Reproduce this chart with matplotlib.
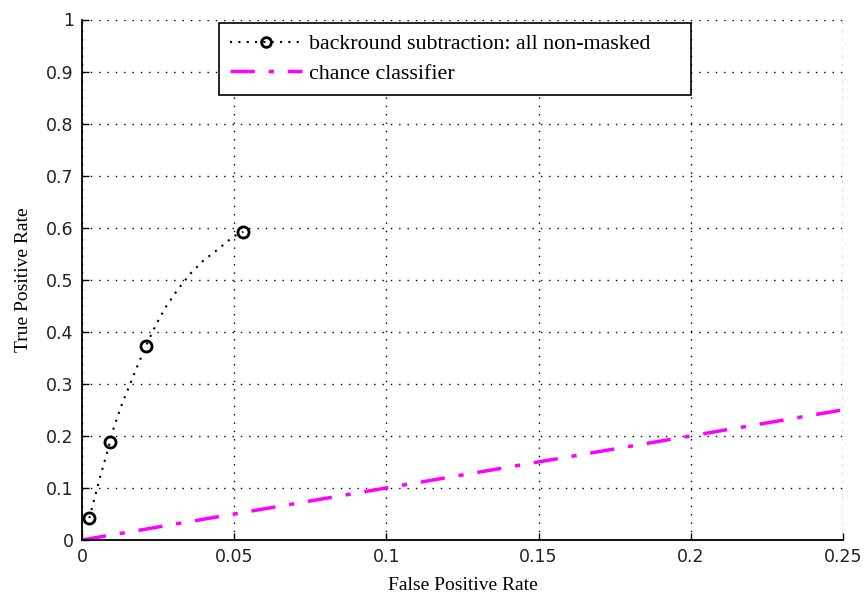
import matplotlib.pyplot as plt
from matplotlib.lines import Line2D

# ROC points (markers)
fpr = [0.0024, 0.0092, 0.0210, 0.0530]
tpr = [0.042, 0.188, 0.373, 0.592]

# smooth dotted curve through the markers
curve_fpr = [0.0024, 0.0058, 0.0092, 0.0103, 0.0130, 0.0152, 0.0174, 0.0210,
             0.0245, 0.0278, 0.0313, 0.0355, 0.0399, 0.0450, 0.0497, 0.0530]
curve_tpr = [0.042, 0.118, 0.188, 0.213, 0.259, 0.291, 0.323, 0.373,
             0.416, 0.450, 0.480, 0.511, 0.537, 0.560, 0.583, 0.592]

chance_x = [0.0, 0.25]
chance_y = [0.0, 0.25]

xticks = [0, 0.05, 0.1, 0.15, 0.2, 0.25]
xticklabels = ['0', '0.05', '0.1', '0.15', '0.2', '0.25']
yticks = [0, 0.1, 0.2, 0.3, 0.4, 0.5, 0.6, 0.7, 0.8, 0.9, 1]
yticklabels = ['0', '0.1', '0.2', '0.3', '0.4', '0.5', '0.6', '0.7', '0.8', '0.9', '1']

fig = plt.figure(figsize=(8.65, 6), dpi=100)
ax = fig.add_axes([0.0948, 0.1, 0.8798, 0.8675])

dot_style = (0, (1, 3))
ax.plot(curve_fpr, curve_tpr, color='black', linestyle=dot_style, linewidth=1.5)
ax.plot(fpr, tpr, color='black', linestyle='none', marker='o',
        markersize=8, markerfacecolor='none', markeredgewidth=2)
l2, = ax.plot(chance_x, chance_y, color='#ff00ff', linestyle=(0, (7, 4, 1.5, 4)),
              linewidth=2.5)
l1 = Line2D([], [], color='black', linestyle=dot_style, linewidth=1.5, marker='o',
            markersize=7, markerfacecolor='none', markeredgewidth=2)

ax.set_xlim(0, 0.25)
ax.set_ylim(0, 1)
ax.set_xticks(xticks)
ax.set_xticklabels(xticklabels)
ax.set_yticks(yticks)
ax.set_yticklabels(yticklabels)
ax.tick_params(direction='in', length=5, width=1, labelsize=12.5, pad=6,
               colors='black')
for lab in ax.get_xticklabels() + ax.get_yticklabels():
    lab.set_fontfamily('DejaVu Sans')
    lab.set_color('#222222')

ax.spines['top'].set_visible(False)
ax.spines['right'].set_visible(False)
ax.spines['left'].set_linewidth(1.3)
ax.spines['bottom'].set_linewidth(1.3)
ax.grid(True, color='black', linestyle=(0, (1, 5)), linewidth=1.0)
ax.set_axisbelow(True)

ax.set_xlabel('False Positive Rate', fontfamily='Liberation Serif', fontsize=14,
              labelpad=8)
ax.set_ylabel('True Positive Rate', fontfamily='Liberation Serif', fontsize=14,
              labelpad=10)

leg = ax.legend([l1, l2], ['backround subtraction: all non-masked', 'chance classifier'],
                loc='upper left', bbox_to_anchor=(0.18, 0.85, 0.62, 0.143),
                mode='expand',
                prop={'family': 'Liberation Serif', 'size': 15.8},
                frameon=True, fancybox=False, framealpha=1, edgecolor='black',
                handlelength=3.3, borderpad=0.5, labelspacing=0.42,
                handletextpad=0.3, borderaxespad=0)
leg.get_frame().set_linewidth(1.2)

fig.savefig('out.png', dpi=100)
